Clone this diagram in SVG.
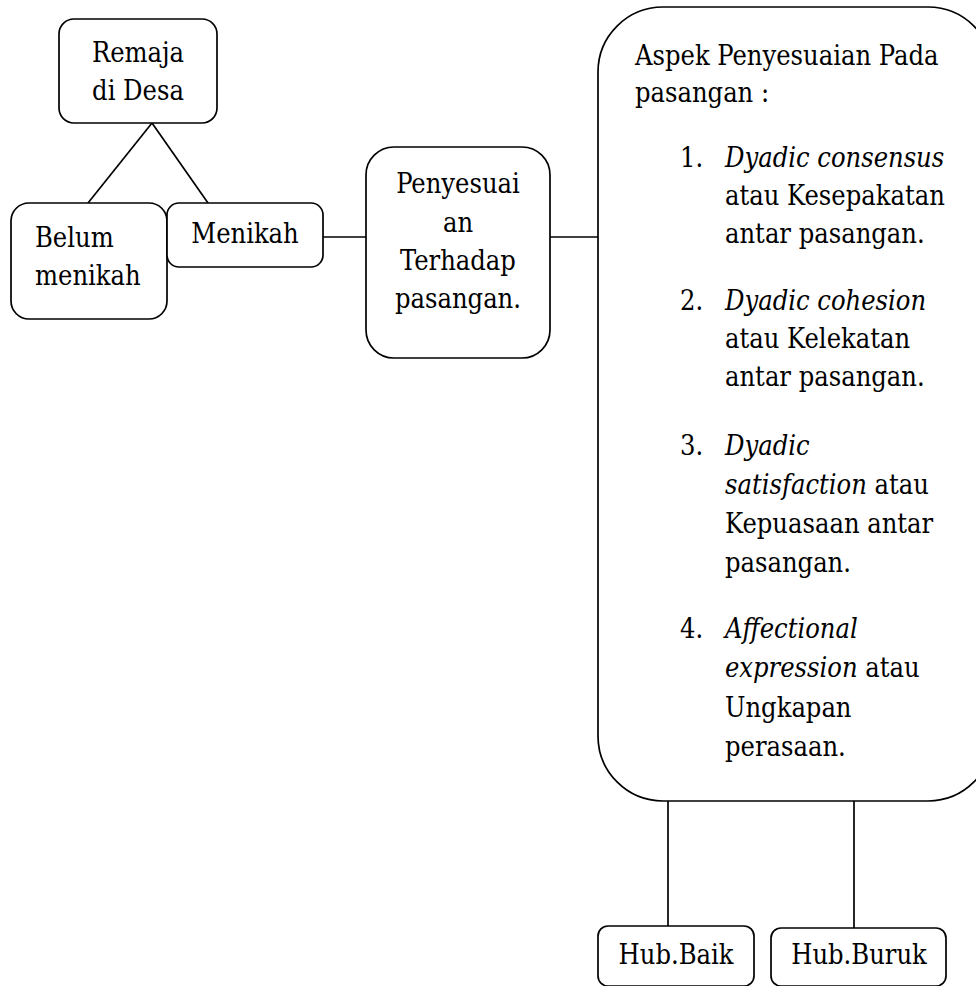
<svg xmlns="http://www.w3.org/2000/svg" width="976" height="986" viewBox="0 0 976 986">
<style>
.box{fill:#fff;stroke:#000;stroke-width:1.7}
.con{stroke:#000;stroke-width:1.7;fill:none}
.c{text-anchor:middle}
.i{font-style:italic}
</style>
<rect width="976" height="986" fill="#fff"/>
<g id="connectors">
<line class="con" x1="152" y1="123" x2="88" y2="203"/>
<line class="con" x1="152" y1="123" x2="208" y2="203"/>
<line class="con" x1="323" y1="237" x2="366" y2="237"/>
<line class="con" x1="550" y1="237" x2="598" y2="237"/>
<line class="con" x1="668" y1="801" x2="668" y2="926"/>
<line class="con" x1="854" y1="801" x2="854" y2="928"/>
</g>
<g font-family="'DejaVu Serif Condensed', 'DejaVu Serif', serif" font-stretch="condensed" font-size="27" fill="#000">
<g id="remaja">
<rect class="box" x="59" y="19" width="158" height="104" rx="15"/>
<text class="c" x="138" y="62">Remaja</text>
<text class="c" x="138" y="100">di Desa</text>
</g>
<g id="belum">
<rect class="box" x="11" y="203" width="156" height="116" rx="18"/>
<text x="35" y="247">Belum</text>
<text x="35" y="285">menikah</text>
</g>
<g id="menikah">
<rect class="box" x="167" y="203" width="156" height="64" rx="12"/>
<text class="c" x="245" y="243">Menikah</text>
</g>
<g id="penyesuaian">
<rect class="box" x="366" y="147" width="184" height="211" rx="28"/>
<text class="c" x="458" y="193">Penyesuai</text>
<text class="c" x="458" y="232">an</text>
<text class="c" x="458" y="270">Terhadap</text>
<text class="c" x="458" y="308">pasangan.</text>
</g>
<g id="aspek">
<rect class="box" x="598" y="7" width="395" height="794" rx="65"/>
<text x="635" y="65">Aspek Penyesuaian Pada</text>
<text x="635" y="102">pasangan :</text>
<text x="680" y="167">1.</text>
<text x="725" y="167" class="i">Dyadic consensus</text>
<text x="725" y="205">atau Kesepakatan</text>
<text x="725" y="243">antar pasangan.</text>
<text x="680" y="310">2.</text>
<text x="725" y="310" class="i">Dyadic cohesion</text>
<text x="725" y="348">atau Kelekatan</text>
<text x="725" y="386">antar pasangan.</text>
<text x="680" y="455">3.</text>
<text x="725" y="455" class="i">Dyadic</text>
<text x="725" y="494"><tspan class="i">satisfaction</tspan> atau</text>
<text x="725" y="533">Kepuasaan antar</text>
<text x="725" y="572">pasangan.</text>
<text x="680" y="638">4.</text>
<text x="725" y="638" class="i">Affectional</text>
<text x="725" y="677"><tspan class="i">expression</tspan> atau</text>
<text x="725" y="717">Ungkapan</text>
<text x="725" y="756">perasaan.</text>
</g>
<g id="hubbaik">
<rect class="box" x="598" y="926" width="156" height="60" rx="10"/>
<text class="c" x="676" y="964">Hub.Baik</text>
</g>
<g id="hubburuk">
<rect class="box" x="771" y="928" width="175" height="58" rx="10"/>
<text class="c" x="859" y="964">Hub.Buruk</text>
</g>
</g>
</svg>
